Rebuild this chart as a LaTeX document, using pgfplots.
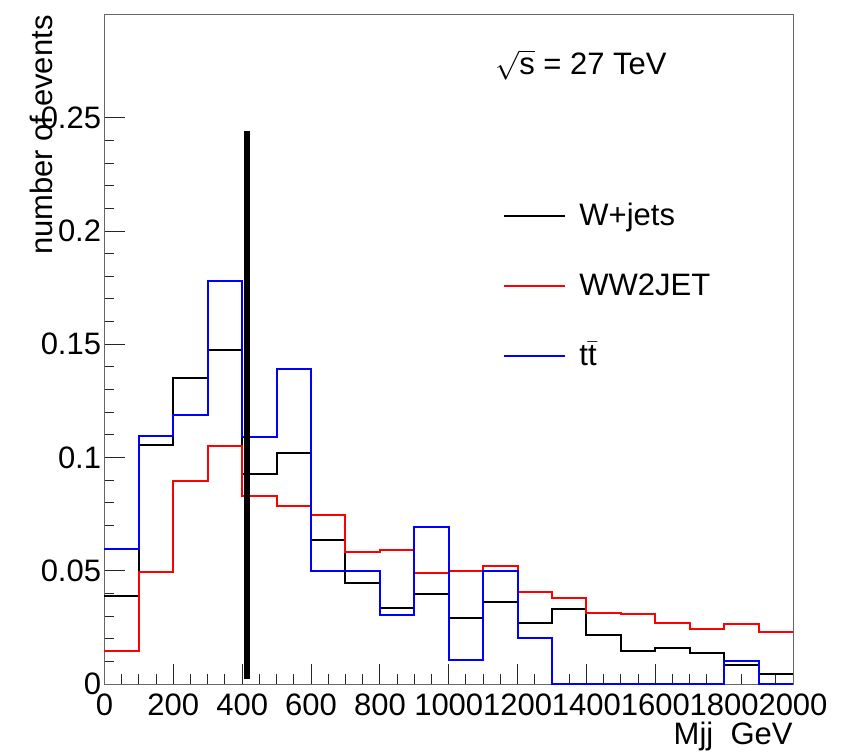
\documentclass[border=0pt]{standalone}
\usepackage{pgfplots}
\pgfplotsset{compat=1.18}
\usepackage{fontspec}
\setmainfont{Liberation Sans}
\usetikzlibrary{calc}
\newcommand{\rf}{\fontsize{15.5}{18}\selectfont}
\begin{document}
\begin{tikzpicture}
\begin{axis}[
  scale only axis,
  width=344.25pt, height=334.5pt,
  xmin=0, xmax=2000, ymin=0, ymax=0.2954,
  clip=false,
  axis line style={black!60, line width=0.5pt},
  every tick/.style={black!85, line width=0.5pt},
  major tick length=10pt, minor tick length=5pt,
  xtick pos=bottom, ytick pos=left,
  tick align=inside,
  xtick={0,200,...,2000},
  xticklabels={0,200,400,600,800,1000,1200,1400,1600,1800,2000},
  minor x tick num=3,
  ytick={0,0.05,0.1,0.15,0.2,0.25},
  yticklabels={0,0.05,0.1,0.15,0.2,0.25},
  minor y tick num=4,
  scaled ticks=false,
  /pgf/number format/assume math mode=true,
  xticklabel style={font=\rf, inner sep=0pt, yshift=-4.5pt},
  yticklabel style={font=\rf, inner sep=0pt, xshift=-1.5pt},
  xlabel={Mjj~~GeV},
  xlabel style={at={(axis description cs:1,0)}, anchor=base east, yshift=-30pt, inner sep=0pt, font=\rf},
  ylabel={number of events},
  ylabel style={at={(axis description cs:-0.0755,1)}, anchor=base east, inner sep=0pt, font=\rf},
  legend style={draw=none, fill=none, at={(rel axis cs:0.5788,0.719)}, anchor=north west,
    font=\rf, inner sep=0pt, row sep=23.8pt, column sep=6.5pt,
    nodes={inner sep=0pt, text height=11.2pt, text depth=0pt}},
  legend cell align=left,
  legend image code/.code={\draw[#1] (0pt,-0.8pt) -- (30.5pt,-0.8pt);},
]
\addplot[const plot mark left, black, line width=1pt] coordinates {
(0,0.0387) (100,0.1055) (200,0.135) (300,0.1477) (400,0.0929) (500,0.102)
(600,0.0636) (700,0.0445) (800,0.0335) (900,0.0398) (1000,0.0290) (1100,0.0362)
(1200,0.0269) (1300,0.0332) (1400,0.0215) (1500,0.0146) (1600,0.0157) (1700,0.0138)
(1800,0.0085) (1900,0.0045) (2000,0.0045)};
\addlegendentry{W+jets}
\addplot[const plot mark left, red, line width=1pt] coordinates {
(0,0.0147) (100,0.0495) (200,0.0898) (300,0.105) (400,0.083) (500,0.0788)
(600,0.0745) (700,0.0585) (800,0.0591) (900,0.0492) (1000,0.05) (1100,0.0522)
(1200,0.0407) (1300,0.0379) (1400,0.0313) (1500,0.0307) (1600,0.0268) (1700,0.0243)
(1800,0.0265) (1900,0.0231) (2000,0.0231)};
\addlegendentry{WW2JET}
\addplot[const plot mark left, blue, line width=1pt] coordinates {
(0,0.0598) (100,0.1093) (200,0.1189) (300,0.178) (400,0.1092) (500,0.1389)
(600,0.0497) (700,0.0497) (800,0.0303) (900,0.0695) (1000,0.0104) (1100,0.0497)
(1200,0.0201) (1300,0) (1400,0) (1500,0) (1600,0) (1700,0)
(1800,0.0101) (1900,0) (2000,0)};
\addlegendentry{t$\bar{\mbox{t}}$}
\addplot[black, line width=3pt, forget plot] coordinates {(415,0.002) (415,0.244)};
\node[anchor=base west, font=\rf, inner sep=0pt] at (rel axis cs:0.567,0.911) {$\sqrt{\mbox{s}}$ = 27 TeV};
\coordinate (ll) at (rel axis cs:0,0);
\coordinate (ur) at (rel axis cs:1,1);
\end{axis}
\pgfresetboundingbox
\useasboundingbox ($(ll)+(-52.25pt,-33.5pt)$) rectangle ($(ur)+(31.5pt,7.5pt)$);
\end{tikzpicture}
\end{document}
